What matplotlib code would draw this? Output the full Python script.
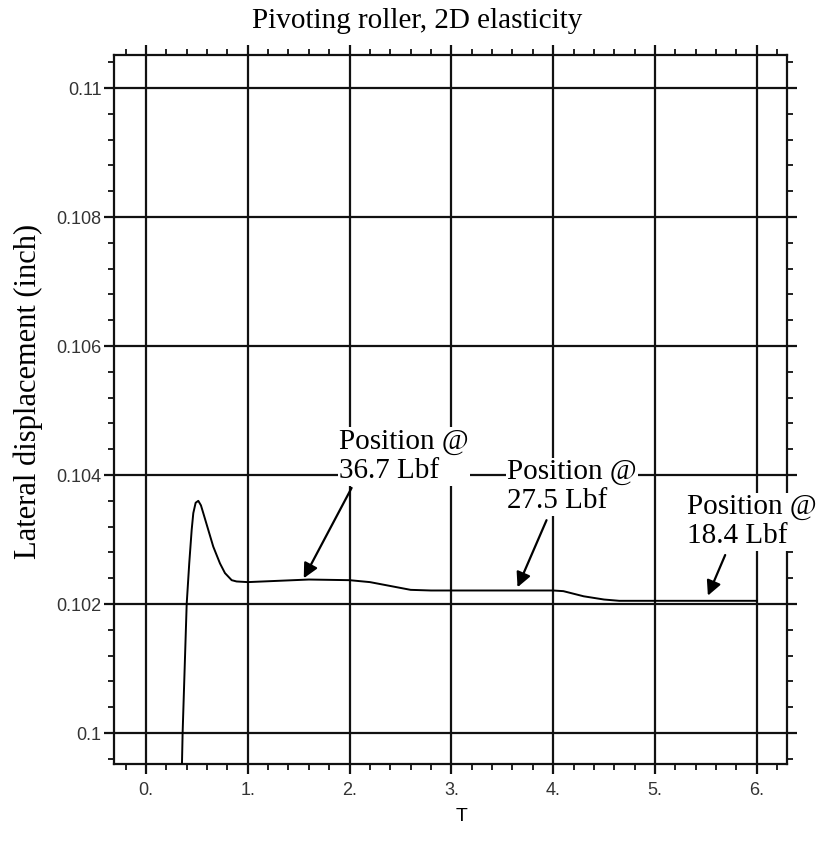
import matplotlib
matplotlib.use('Agg')
import matplotlib.pyplot as plt
from matplotlib.ticker import MultipleLocator, FixedLocator, FixedFormatter

# curve (T, lateral displacement)
t = [0.352, 0.36, 0.38, 0.40, 0.425, 0.449, 0.465, 0.488, 0.514, 0.54, 0.563,
     0.612, 0.661, 0.727, 0.776, 0.842, 0.89, 1.0, 1.3, 1.6, 2.0, 2.2, 2.4,
     2.6, 2.8, 4.0, 4.1, 4.3, 4.5, 4.65, 6.0]
disp = [0.0994, 0.1000, 0.1010, 0.1020, 0.10263, 0.10315, 0.10341, 0.10357,
        0.10360, 0.10353, 0.10341, 0.10315, 0.10289, 0.10263, 0.10248, 0.10237,
        0.10235, 0.10234, 0.10236, 0.10238, 0.10237, 0.10234, 0.10228, 0.10222,
        0.10221, 0.10221, 0.10220, 0.10212, 0.10207, 0.10205, 0.10205]

labels = ["Position @\n36.7 Lbf", "Position @\n27.5 Lbf", "Position @\n18.4 Lbf"]
label_pos = [(1.896, 0.103953), (3.549, 0.103484), (5.317, 0.102941)]
arrow_tail = [(2.02, 0.1038), (3.935, 0.1033), (5.69, 0.10276)]
arrow_head = [(1.55, 0.10240), (3.65, 0.10226), (5.52, 0.10213)]

xticks = [0, 1, 2, 3, 4, 5, 6]
xticklabels = ["0.", "1.", "2.", "3.", "4.", "5.", "6."]
yticks = [0.100, 0.102, 0.104, 0.106, 0.108, 0.110]
yticklabels = ["0.1", "0.102", "0.104", "0.106", "0.108", "0.11"]

fig = plt.figure(figsize=(8.21, 8.43), dpi=100)
ax = fig.add_axes([0.13886, 0.09371, 0.8197, 0.84104])

ax.plot(t, disp, color='black', lw=1.4, zorder=3)

ax.set_xlim(-0.314, 6.297)
ax.set_ylim(0.09952, 0.110512)

ax.xaxis.set_major_locator(FixedLocator(xticks))
ax.xaxis.set_major_formatter(FixedFormatter(xticklabels))
ax.xaxis.set_minor_locator(MultipleLocator(0.2))
ax.yaxis.set_major_locator(FixedLocator(yticks))
ax.yaxis.set_major_formatter(FixedFormatter(yticklabels))
ax.yaxis.set_minor_locator(MultipleLocator(0.0004))

ax.grid(True, which='major', color='#111111', lw=1.6, zorder=1)
for s in ax.spines.values():
    s.set_linewidth(1.6)
    s.set_color('#111111')

ax.tick_params(which='both', direction='out', top=True, right=True,
               labeltop=False, labelright=False, color='#111111')
ax.tick_params(which='major', length=7, width=1.6)
ax.tick_params(which='minor', length=4, width=1.3)
for lab in ax.get_xticklabels() + ax.get_yticklabels():
    lab.set_family('Liberation Sans')
    lab.set_fontsize(13)
    lab.set_color('#333333')
ax.tick_params(axis='x', pad=6)
ax.tick_params(axis='y', pad=2)

ax.set_xlabel('T', family='Liberation Sans', fontsize=14)
ax.xaxis.set_label_coords(0.517, -0.062)
ax.set_ylabel('Lateral displacement (inch)', family='Liberation Serif', fontsize=22)
ax.yaxis.set_label_coords(-0.105, 0.525)

fig.text(417 / 821, 1 - 28 / 843, 'Pivoting roller, 2D elasticity', family='Liberation Serif',
         fontsize=21, ha='center', va='baseline')

for txt, pos, tail, head in zip(labels, label_pos, arrow_tail, arrow_head):
    ax.text(pos[0], pos[1], txt, family='Liberation Serif', fontsize=21,
            ha='left', va='baseline', zorder=4, clip_on=False, linespacing=1.15,
            bbox=dict(facecolor='white', edgecolor='none', pad=1))
    ax.annotate('', xy=head, xytext=tail, zorder=5,
                arrowprops=dict(arrowstyle='-|>', color='black', lw=1.6,
                                mutation_scale=22, shrinkA=0, shrinkB=0))

fig.savefig('out.png', dpi=100)
